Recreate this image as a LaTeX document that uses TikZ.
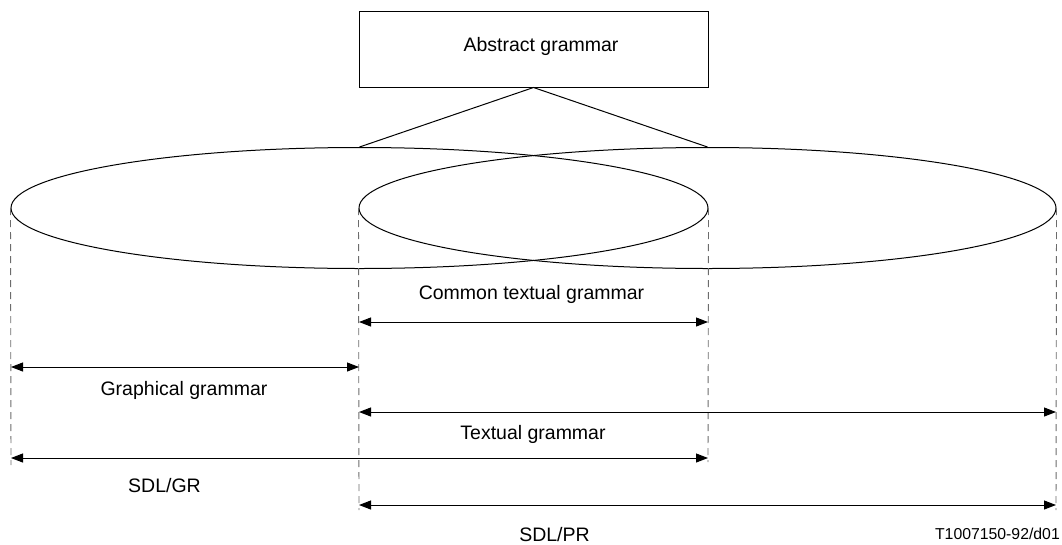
\documentclass[tikz,border=0pt]{standalone}
\usepackage{fontspec}
\setmainfont{Liberation Sans}
\usetikzlibrary{shapes.geometric,arrows.meta}
\tikzset{
  line/.style={line width=1pt, draw=black},
  boxnode/.style={line, rectangle, minimum width=349pt, minimum height=76pt, inner sep=0pt},
  ellnode/.style={line, ellipse, minimum width=697pt, minimum height=121pt, inner sep=0pt},
  guide/.style={line width=0.9pt, draw=gray!85!black, dash pattern=on 7pt off 5pt},
  dim/.style={line width=1pt, draw=black, {Triangle[length=12pt,width=9pt]}-{Triangle[length=12pt,width=9pt]}},
  lbl/.style={inner sep=0pt, font=\fontsize{19.5}{22}\selectfont},
  small/.style={inner sep=0pt, font=\fontsize{15.8}{18}\selectfont}
}
\begin{document}
\begin{tikzpicture}[x=1pt,y=-1pt]
\useasboundingbox (0,0) rectangle (1062,544);
% box
\node[boxnode] (ag) at (533.5,49) {};
\node[lbl] (agt) at (541,46) {Abstract grammar};
% ellipses
\node[ellnode] (le) at (359.5,208) {};
\node[ellnode] (re) at (707.5,208) {};
\draw[line] (le.north) -- (ag.south) -- (re.north);
% guide end coordinates
\coordinate (g1) at (11,465);
\coordinate (g2) at (359,510);
\coordinate (g3) at (708,462);
\coordinate (g4) at (1056,510);
\draw[guide] (le.west) -- (g1);
\draw[guide] (re.west) -- (g2);
\draw[guide] (le.east) -- (g3);
\draw[guide] (re.east) -- (g4);
% arrow ends
\coordinate (c1) at (359,322); \coordinate (c2) at (708,322);
\coordinate (p1) at (11,367);  \coordinate (p2) at (359,367);
\coordinate (t1) at (359,412); \coordinate (t2) at (1056,412);
\coordinate (s1) at (11,458);  \coordinate (s2) at (708,458);
\coordinate (r1) at (359,505); \coordinate (r2) at (1056,505);
\draw[dim] (c1) -- (c2);
\draw[dim] (p1) -- (p2);
\draw[dim] (t1) -- (t2);
\draw[dim] (s1) -- (s2);
\draw[dim] (r1) -- (r2);
% labels
\node[lbl] (lc) at (531.5,294) {Common textual grammar};
\node[lbl] (lg) at (184,390) {Graphical grammar};
\node[lbl] (lt) at (533,434) {Textual grammar};
\node[lbl] (ls) at (164.5,486) {SDL/GR};
\node[lbl] (lp) at (554.5,535) {SDL/PR};
\node[small, anchor=east] (code) at (1060,534) {T1007150-92/d01};
\end{tikzpicture}
\end{document}
